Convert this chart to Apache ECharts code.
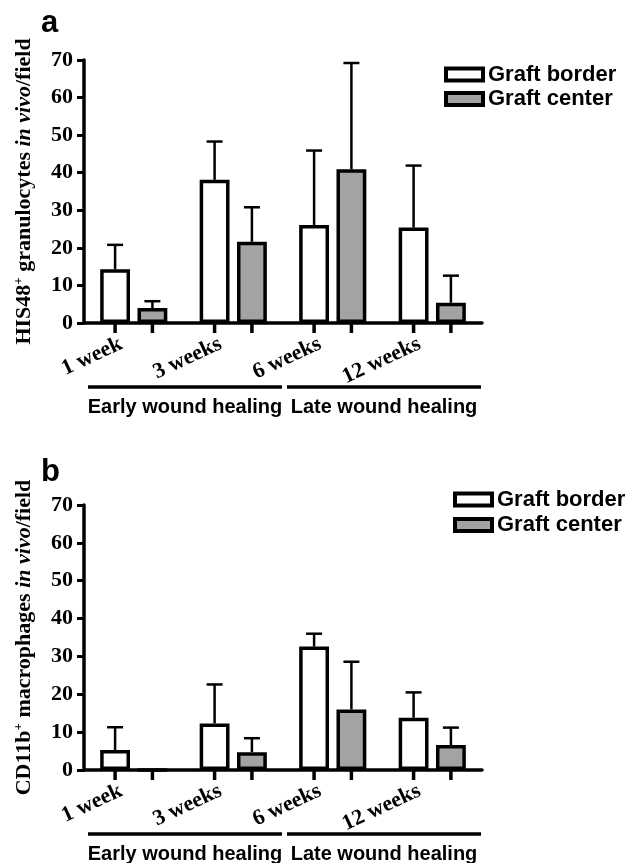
<!DOCTYPE html>
<html>
<head>
<meta charset="utf-8">
<script src="https://cdn.jsdelivr.net/npm/echarts@6/dist/echarts.min.js"></script>
<style>
  html, body { margin: 0; padding: 0; background: #fff; }
  #chart { width: 627px; height: 863px; }
</style>
</head>
<body>
<div id="chart"></div>
<script>
// time points and group labels
var weeks = ['1 week', '3 weeks', '6 weeks', '12 weeks'];
var groupNames = ['Early wound healing', 'Late wound healing'];
var groupSpans = [[0, 1], [2, 3]];
var seriesNames = ['Graft border', 'Graft center'];
var yTicks = [0, 10, 20, 30, 40, 50, 60, 70];

// panel a: HIS48+ granulocytes (mean, SD)
var aBorder = [14.3, 38.1, 26.1, 25.4];
var aBorderSd = [6.5, 10.2, 19.8, 16.5];
var aCenter = [4.0, 21.6, 40.9, 5.4];
var aCenterSd = [1.8, 9.2, 28.3, 7.2];

// panel b: CD11b+ macrophages (mean, SD)
var bBorder = [5.3, 12.3, 32.6, 13.8];
var bBorderSd = [6.0, 10.3, 3.4, 6.7];
var bCenter = [0, 4.7, 16.0, 6.6];
var bCenterSd = [0, 3.7, 12.6, 4.6];

var BAR_W = 0.30;
var BAR_GAP = 0.25;
var serif = 'Liberation Serif';
var sans = 'Liberation Sans';

function errData(means, sds) {
  return means.map(function (m, i) { return [i, m, sds[i]]; });
}

function errorSeries(gi, means, sds, side) {
  return {
    type: 'custom',
    xAxisIndex: gi,
    yAxisIndex: gi,
    z: 5,
    silent: true,
    encode: { x: 0, y: 1 },
    data: errData(means, sds),
    renderItem: function (params, api) {
      var i = api.value(0), m = api.value(1), sd = api.value(2);
      var base = api.coord([i, 0]);
      var top = api.coord([i, m]);
      var hi = api.coord([i, m + sd]);
      var band = api.size([1, 0])[0];
      var bw = band * BAR_W;
      var x = base[0] + side * bw * (1 + BAR_GAP) / 2;
      var kids = [{
        type: 'line',
        shape: { x1: x, y1: base[1], x2: x, y2: base[1] + 10 },
        style: { stroke: '#000', lineWidth: 3.5 }
      }];
      if (sd > 0) {
        kids.push({
          type: 'line',
          shape: { x1: x, y1: top[1], x2: x, y2: hi[1] },
          style: { stroke: '#000', lineWidth: 2.5 }
        });
        kids.push({
          type: 'line',
          shape: { x1: x - 8, y1: hi[1], x2: x + 8, y2: hi[1] },
          style: { stroke: '#000', lineWidth: 2.5 }
        });
      }
      return { type: 'group', children: kids };
    }
  };
}

function groupSeries(gi) {
  return {
    type: 'custom',
    xAxisIndex: gi,
    yAxisIndex: gi,
    silent: true,
    encode: { x: 0, y: 1 },
    data: groupSpans.map(function (s, k) { return [s[0], 0, s[1], k]; }),
    renderItem: function (params, api) {
      var p0 = api.coord([api.value(0), 0]);
      var p1 = api.coord([api.value(2), 0]);
      var band = api.size([1, 0])[0];
      var x0 = p0[0] - band / 2 + 4;
      var x1 = p1[0] + band / 2 - 1;
      var y = p0[1] + 64;
      return {
        type: 'group',
        children: [{
          type: 'line',
          shape: { x1: x0, y1: y, x2: x1, y2: y },
          style: { stroke: '#000', lineWidth: 3.5 }
        }, {
          type: 'text',
          style: {
            text: groupNames[api.value(3)],
            x: (x0 + x1) / 2,
            y: y + 20,
            fill: '#000',
            font: 'bold 20px "' + sans + '"',
            align: 'center',
            verticalAlign: 'middle'
          }
        }]
      };
    }
  };
}

function barSeries(gi, name, values, color) {
  return {
    type: 'bar',
    name: name,
    xAxisIndex: gi,
    yAxisIndex: gi,
    barWidth: (BAR_W * 100) + '%',
    barGap: (BAR_GAP * 100) + '%',
    data: values,
    itemStyle: { color: color, borderColor: '#000', borderWidth: 3.5 },
    z: 3
  };
}

var axisLineStyle = { color: '#000', width: 3.5 };

function xAxisFor(gi) {
  return {
    type: 'category',
    gridIndex: gi,
    data: weeks,
    axisLine: { show: true, lineStyle: axisLineStyle },
    axisTick: { show: false },
    axisLabel: {
      interval: 0,
      rotate: 25,
      margin: 14,
      padding: [0, 14, 0, 0],
      color: '#000',
      fontFamily: serif,
      fontWeight: 'bold',
      fontSize: 22
    }
  };
}

function yAxisFor(gi, nameParts) {
  return {
    type: 'value',
    gridIndex: gi,
    min: yTicks[0],
    max: yTicks[yTicks.length - 1],
    interval: 10,
    splitLine: { show: false },
    axisLine: { show: true, lineStyle: axisLineStyle },
    axisTick: { show: true, length: 7, lineStyle: { color: '#000', width: 3 } },
    axisLabel: {
      margin: 11,
      color: '#000',
      fontFamily: serif,
      fontWeight: 'bold',
      fontSize: 22
    },
    name: '{n|' + nameParts[0] + '}{s|+}{n|' + nameParts[1] + '}{i|in vivo}{n|/field}',
    nameLocation: 'middle',
    nameRotate: 90,
    nameGap: 48,
    nameTextStyle: {
      rich: {
        n: { fontFamily: serif, fontWeight: 'bold', fontSize: 22, color: '#000', lineHeight: 24 },
        s: { fontFamily: serif, fontWeight: 'bold', fontSize: 13, color: '#000', lineHeight: 13, verticalAlign: 'top' },
        i: { fontFamily: serif, fontWeight: 'bold', fontStyle: 'italic', fontSize: 22, color: '#000', lineHeight: 24 }
      }
    }
  };
}

function legendFor(top, left, gap) {
  return {
    orient: 'vertical',
    left: left,
    top: top,
    padding: 0,
    itemWidth: 37,
    itemHeight: 12,
    itemGap: gap,
    selectedMode: false,
    icon: 'rect',
    data: seriesNames,
    itemStyle: { borderColor: '#000', borderWidth: 4 },
    textStyle: { fontFamily: sans, fontWeight: 'bold', fontSize: 22, lineHeight: 15, color: '#000' }
  };
}

var chart = echarts.init(document.getElementById('chart'));
chart.setOption({
  animation: false,
  backgroundColor: '#fff',
  title: [
    { text: 'a', left: 41, top: 8, padding: 0, textStyle: { fontFamily: sans, fontWeight: 'bold', fontSize: 31, color: '#000' } },
    { text: 'b', left: 41, top: 457, padding: 0, textStyle: { fontFamily: sans, fontWeight: 'bold', fontSize: 31, color: '#000' } }
  ],
  legend: [legendFor(63.5, 444, 2.5), legendFor(488.5, 453, 3.5)],
  grid: [
    { left: 84, top: 60, width: 398, height: 263 },
    { left: 84, top: 505, width: 398, height: 265 }
  ],
  xAxis: [xAxisFor(0), xAxisFor(1)],
  yAxis: [
    yAxisFor(0, ['HIS48', ' granulocytes ']),
    yAxisFor(1, ['CD11b', ' macrophages '])
  ],
  series: [
    barSeries(0, seriesNames[0], aBorder, '#ffffff'),
    barSeries(0, seriesNames[1], aCenter, '#a3a3a3'),
    errorSeries(0, aBorder, aBorderSd, -1),
    errorSeries(0, aCenter, aCenterSd, 1),
    groupSeries(0),
    barSeries(1, seriesNames[0], bBorder, '#ffffff'),
    barSeries(1, seriesNames[1], bCenter, '#a3a3a3'),
    errorSeries(1, bBorder, bBorderSd, -1),
    errorSeries(1, bCenter, bCenterSd, 1),
    groupSeries(1)
  ]
});
</script>
</body>
</html>
